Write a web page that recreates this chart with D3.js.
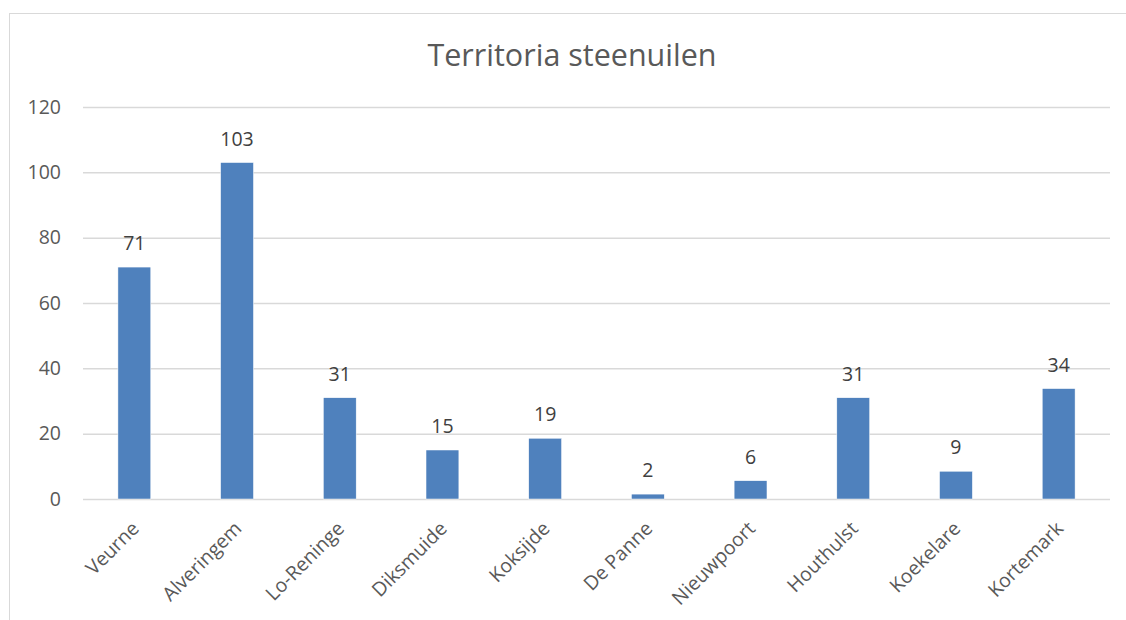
<!DOCTYPE html>
<html>
<head>
<meta charset="utf-8">
<script src="https://cdn.jsdelivr.net/npm/d3@7"></script>
<style>
  body { margin: 0; background: #fff; }
  text { font-family: "Open Sans", "Noto Sans", sans-serif; }
</style>
</head>
<body>
<div id="chart"></div>
<script>
const categories = ["Veurne", "Alveringem", "Lo-Reninge", "Diksmuide", "Koksijde",
  "De Panne", "Nieuwpoort", "Houthulst", "Koekelare", "Kortemark"];
const values = [71, 103, 31, 15, 18.6, 1.5, 5.6, 31, 8.5, 33.8];
const yTicks = [0, 20, 40, 60, 80, 100, 120];
const title = "Territoria steenuilen";

const width = 1126;
const height = 620;
const margin = { top: 107, right: 16, bottom: 121, left: 83 };

const svg = d3.select("#chart")
  .append("svg")
  .attr("width", width)
  .attr("height", height);

// chart frame, runs off the right and bottom edge
svg.append("rect")
  .attr("x", 9.5)
  .attr("y", 13.5)
  .attr("width", width + 20)
  .attr("height", height + 20)
  .attr("fill", "none")
  .attr("stroke", "#d9d9d9");

const x = d3.scaleBand()
  .domain(categories)
  .range([margin.left, width - margin.right])
  .paddingInner(0.68)
  .paddingOuter(0.34);

const y = d3.scaleLinear()
  .domain([0, 120])
  .range([height - margin.bottom, margin.top]);

svg.append("text")
  .attr("x", 572)
  .attr("y", 66)
  .attr("text-anchor", "middle")
  .attr("font-size", 30.5)
  .attr("fill", "#595959")
  .text(title);

// gridlines + y labels
const yAxis = svg.append("g")
  .attr("transform", `translate(${margin.left},0)`)
  .call(d3.axisLeft(y)
    .tickValues(yTicks)
    .tickSize(-(width - margin.left - margin.right))
    .tickPadding(22));

yAxis.select(".domain").remove();
yAxis.selectAll(".tick line")
  .attr("stroke", "#d9d9d9")
  .attr("stroke-width", 1.5);
yAxis.selectAll(".tick text")
  .attr("font-size", 19.5)
  .attr("fill", "#595959");

svg.selectAll("rect.bar")
  .data(values)
  .enter()
  .append("rect")
  .attr("class", "bar")
  .attr("x", (d, i) => x(categories[i]))
  .attr("y", d => y(d))
  .attr("width", x.bandwidth())
  .attr("height", d => y(0) - y(d))
  .attr("fill", "#4f81bd")
  .attr("stroke", "#ffffff")
  .attr("stroke-width", 0.5);

svg.selectAll("text.label")
  .data(values)
  .enter()
  .append("text")
  .attr("class", "label")
  .attr("x", (d, i) => x(categories[i]) + x.bandwidth() / 2)
  .attr("y", d => y(d) - 17)
  .attr("text-anchor", "middle")
  .attr("font-size", 19.5)
  .attr("fill", "#404040")
  .text(d => Math.round(d));

// rotated category labels
svg.selectAll("text.cat")
  .data(categories)
  .enter()
  .append("text")
  .attr("class", "cat")
  .attr("transform", d => `translate(${x(d) + x.bandwidth() / 2 + 1},${y(0) + 26}) rotate(-45)`)
  .attr("text-anchor", "end")
  .attr("dy", "0.35em")
  .attr("font-size", 19.5)
  .attr("fill", "#595959")
  .text(d => d);
</script>
</body>
</html>
